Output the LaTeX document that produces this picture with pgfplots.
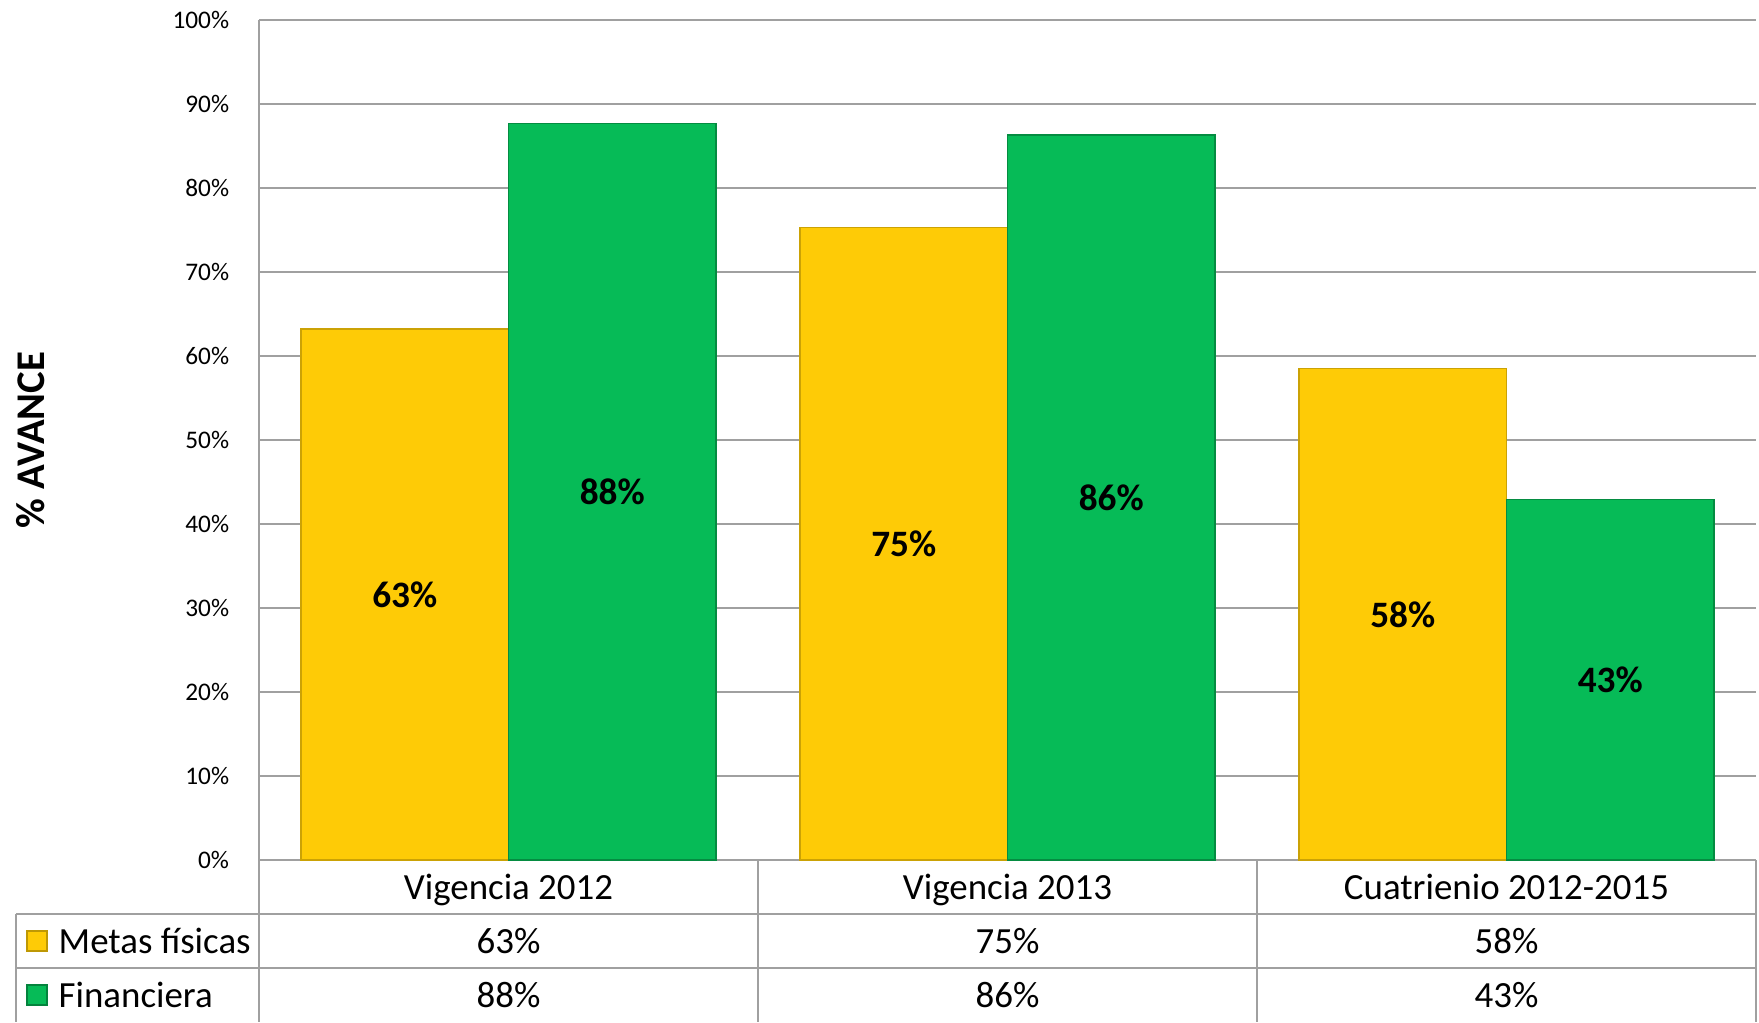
\documentclass[border=0pt]{standalone}
\usepackage{pgfplots}
\pgfplotsset{compat=1.18}
\usepackage{fontspec}
\setmainfont{Carlito}
\definecolor{barY}{RGB}{254,203,6}
\definecolor{barG}{RGB}{6,187,87}
\definecolor{gridc}{RGB}{160,160,160}
\begin{document}
\begin{tikzpicture}[x=1mm,y=1mm]
\useasboundingbox (-25.9,-16.2) rectangle (150,86);
\begin{axis}[at={(0,0)}, anchor=south west, scale only axis,
  width=149.7mm, height=84mm,
  xmin=-0.5, xmax=2.5, ymin=0, ymax=100,
  axis x line*=bottom, axis y line*=left,
  axis line style={gridc, line width=0.6pt, -},
  ymajorgrids, grid style={gridc, line width=0.6pt},
  ytick={0,10,...,100},
  yticklabel={\pgfmathprintnumber{\tick}\%},
  /pgf/number format/assume math mode=true,
  yticklabel style={font=\fontsize{7.2}{8}\selectfont, xshift=-1.75mm},
  xtick={0,1,2},
  xticklabels={Vigencia 2012, Vigencia 2013, Cuatrienio 2012-2015},
  xticklabel style={font=\fontsize{10.5}{12}\selectfont, anchor=base, yshift=-3.9mm},
  major tick length=0,
  ylabel={\bfseries\% AVANCE},
  ylabel style={at={(axis description cs:-0.1523,0.5)}, anchor=center, font=\fontsize{11.6}{13}\selectfont},
  clip=false]
\addplot[ybar, bar width=0.4157, bar shift=-0.2079, fill=barY, draw=barY!80!black, line width=0.4pt]
  coordinates {(0,63.2) (1,75.3) (2,58.5)};
\addplot[ybar, bar width=0.4157, bar shift=0.2079, fill=barG, draw=barG!75!black, line width=0.4pt]
  coordinates {(0,87.7) (1,86.3) (2,42.9)};
\addplot[draw=none, mark=none, forget plot, nodes near coords, point meta=explicit symbolic,
  every node near coord/.style={anchor=center, font=\fontsize{10.6}{12}\selectfont\bfseries}]
  coordinates {(-0.2079,31.6)[63\%] (0.7921,37.65)[75\%] (1.7921,29.25)[58\%]
               (0.2079,43.85)[88\%] (1.2079,43.15)[86\%] (2.2079,21.45)[43\%]};
\end{axis}
% data table below the chart
\draw[gridc, line width=0.6pt] (0,0)--(0,-16.2) (49.9,0)--(49.9,-16.2) (99.8,0)--(99.8,-16.2) (149.7,0)--(149.7,-16.2);
\draw[gridc, line width=0.6pt] (-24.3,-5.4)--(149.7,-5.4) (-24.3,-10.8)--(149.7,-10.8) (-24.3,-5.4)--(-24.3,-16.2);
\fill[barY, draw=barY!75!black, line width=0.3pt] (-23.2,-9.1) rectangle (-21.2,-7.1);
\fill[barG, draw=barG!70!black, line width=0.3pt] (-23.2,-14.5) rectangle (-21.2,-12.5);
\begin{scope}[every node/.style={font=\fontsize{10.5}{12}\selectfont, inner sep=0pt}]
\node[anchor=base west] at (-20.1,-9.3) {Metas físicas};
\node[anchor=base west] at (-20.1,-14.7) {Financiera};
\node[anchor=base] at (24.95,-9.3) {63\%};
\node[anchor=base] at (74.85,-9.3) {75\%};
\node[anchor=base] at (124.75,-9.3) {58\%};
\node[anchor=base] at (24.95,-14.7) {88\%};
\node[anchor=base] at (74.85,-14.7) {86\%};
\node[anchor=base] at (124.75,-14.7) {43\%};
\end{scope}
\end{tikzpicture}
\end{document}
